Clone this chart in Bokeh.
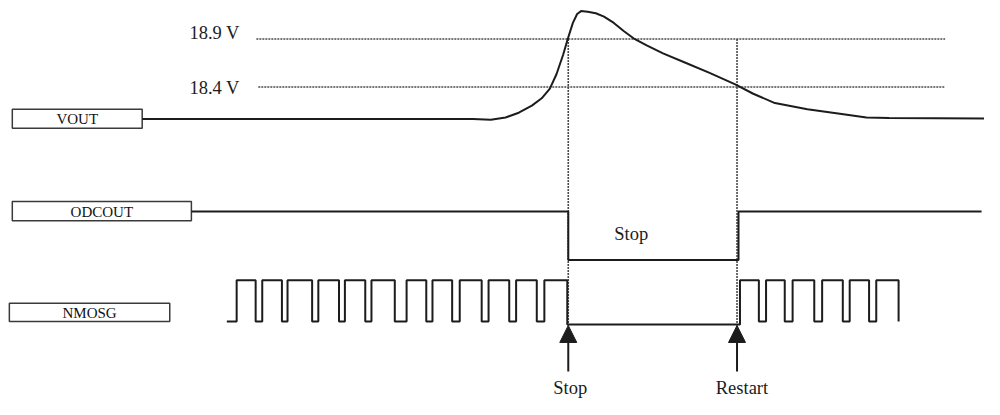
from bokeh.plotting import figure
from bokeh.models import Range1d, Arrow, NormalHead
from bokeh.core.properties import value
from bokeh.embed import file_html
from bokeh.resources import INLINE

# ---------------- data ----------------
signal_names = ["VOUT", "ODCOUT", "NMOSG"]
ref_levels_v = [18.9, 18.4]

# VOUT waveform (time units, volts)
vout_t = [144, 480, 498.3, 513.3, 526.7, 540, 550, 558.3, 565, 571.7, 576.7, 581.7,
          586, 590, 596.7, 605, 613.3, 623.3, 633.3, 643.3, 656.7, 673.3, 696.7,
          720, 746.7, 765, 787, 820, 853, 880, 903, 1000]
vout_v = [18.067, 18.067, 18.06, 18.083, 18.133, 18.207, 18.283, 18.383, 18.533,
          18.733, 18.907, 19.067, 19.16, 19.19, 19.183, 19.167, 19.133, 19.067,
          18.983, 18.907, 18.833, 18.75, 18.65, 18.55, 18.427, 18.33, 18.233,
          18.17, 18.123, 18.083, 18.077, 18.073]

# ODCOUT logic level (step "after")
odcout_t = [194, 577, 750, 997]
odcout_lv = [1, 0, 1, 1]

# NMOSG gate drive logic level (step "after")
nmosg_t = [230, 240, 259.3, 266, 286, 291.7, 316.7, 323, 344, 350, 370.7, 377,
           400.7, 412.7, 432.7, 439, 459, 466.7, 489, 496, 517, 524, 545, 552.7,
           576, 751.5, 770.7, 778, 797, 805, 827, 835, 856, 863, 882.7, 890, 912.7]
nmosg_lv = [0, 1, 0, 1, 0, 1, 0, 1, 0, 1, 0, 1,
            0, 1, 0, 1, 0, 1, 0, 1, 0, 1, 0, 1,
            -0.07, 1, 0, 1, 0, 1, 0, 1, 0, 1, 0, 1, 0]

events_t = [577, 748.5]
events_lbl = ["Stop", "Restart"]
stop_state_lbl = "Stop"

# ---------------- layout ----------------
FONT = value("Liberation Serif")
INK = "#1c1c1c"
DOT = "#4a4a4a"

p = figure(width=984, height=399, x_range=Range1d(0, 1000), y_range=Range1d(415, 0),
           output_backend="svg", toolbar_location=None, min_border=0,
           x_axis_type=None, y_axis_type=None)
p.grid.visible = False
p.outline_line_color = None
p.background_fill_color = "white"
p.border_fill_color = "white"
p.extra_y_ranges = {"volts": Range1d(18.4 - (415 - 90) / 100, 18.4 + (90 - 0) / 100)}

# reference voltage dotted lines
p.segment(x0=[260, 262], x1=[960, 960], y0=ref_levels_v, y1=ref_levels_v,
          y_range_name="volts", line_color=DOT, line_width=1.6, line_dash="2 1")
p.text(x=[192, 192], y=[34, 91], text=[f"{v} V" for v in ref_levels_v],
       text_font=FONT, text_font_size="18.5px", text_color=INK,
       text_baseline="middle", text_align="left")

# vertical event dotted lines
p.segment(x0=events_t, x1=events_t, y0=[40, 40], y1=[338, 338],
          line_color=DOT, line_width=1.6, line_dash="2 1")

# signal boxes
box_l = [12, 12, 9]
box_r = [144, 194, 172]
box_t = [113, 209, 315]
box_b = [133, 229, 334]
p.quad(left=box_l, right=box_r, top=box_t, bottom=box_b,
       fill_color="white", line_color="#3a3a3a", line_width=1.5)
p.text(x=[(a + b) / 2 for a, b in zip(box_l, box_r)],
       y=[(a + b) / 2 + 0.5 for a, b in zip(box_t, box_b)],
       text=signal_names, text_font=FONT, text_font_size="15px",
       text_color="#111111", text_align="center", text_baseline="middle")

# VOUT
p.line(vout_t, vout_v, y_range_name="volts", line_color=INK, line_width=2)

# ODCOUT
odc_hi, odc_lo = 219.5, 270
p.step(odcout_t, [odc_lo + lv * (odc_hi - odc_lo) for lv in odcout_lv],
       mode="after", line_color=INK, line_width=2)
p.text(x=[641], y=[243], text=[stop_state_lbl], text_font=FONT,
       text_font_size="18.5px", text_color=INK, text_align="center",
       text_baseline="middle")

# NMOSG
nm_hi, nm_lo = 291, 334
p.step(nmosg_t, [nm_lo + lv * (nm_hi - nm_lo) for lv in nmosg_lv],
       mode="after", line_color=INK, line_width=2)

# event arrows and labels
for t in events_t:
    p.add_layout(Arrow(end=NormalHead(size=17, fill_color=INK, line_color=INK),
                       x_start=t, y_start=386, x_end=t, y_end=338,
                       line_color=INK, line_width=2))
p.text(x=[events_t[0] + 2, events_t[1] + 5], y=[403, 403], text=events_lbl,
       text_font=FONT, text_font_size="18.5px", text_color=INK,
       text_align="center", text_baseline="middle")

open("out.html", "w").write(file_html(p, INLINE))
